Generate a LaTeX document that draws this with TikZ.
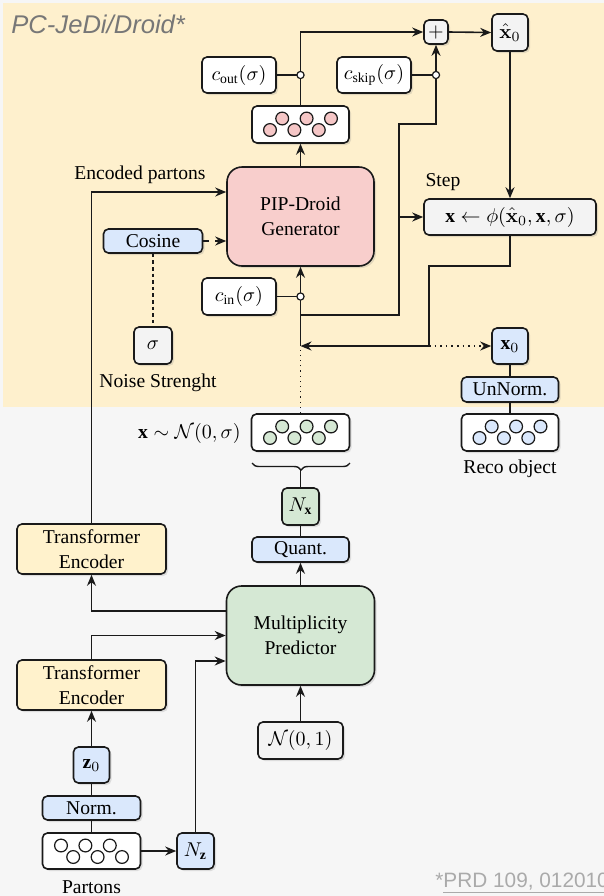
\documentclass[tikz,border=0pt]{standalone}
\usepackage{amsmath}
\usepackage{bm}
\usepackage{fontspec}
\setmainfont{Liberation Serif}
\newfontfamily\ttlfont{Liberation Sans}
\usetikzlibrary{arrows.meta,shadows,decorations.pathreplacing}

\definecolor{creamback}{HTML}{FEF0CD}
\definecolor{grayback}{HTML}{F6F6F6}
\definecolor{pinkfill}{HTML}{F8CECC}
\definecolor{pinkdot}{HTML}{F5C6C6}
\definecolor{greenfill}{HTML}{D5E8D4}
\definecolor{bluefill}{HTML}{DAE8FC}
\definecolor{yellowfill}{HTML}{FFF2CC}
\definecolor{lightfill}{HTML}{F3F3F3}
\definecolor{titlegray}{HTML}{777777}
\definecolor{refgray}{HTML}{AAAAAA}
\definecolor{edge}{HTML}{1A1A1A}

\newcommand\dfs{\fontsize{9.8}{12.5}\selectfont}
% one row of six particles inside a node, alternating up and down
\newcommand\partrow[3]{%
  \foreach \dx/\dy in {-30.5/5.5,-18.3/-6,-6.1/5.5,6.1/-6,18.3/5.5,30.5/-6}
    \draw[line width=0.6pt, draw=edge, fill=#2] ([shift={(\dx,#3*\dy)}]#1.center) circle[radius=3.2pt];}

\begin{document}
\begin{tikzpicture}[x=0.5pt,y=-0.5pt,
  box/.style={draw=edge, line width=0.8pt, rounded corners=2.5pt, inner sep=0pt,
    align=center, font=\dfs,
    drop shadow={opacity=0.22, shadow xshift=1pt, shadow yshift=-1pt}},
  bigbox/.style={box, rounded corners=7.5pt},
  lbl/.style={font=\dfs, inner sep=0pt},
  arr/.style={-{Stealth[length=5.5pt,width=4.5pt]}},
  conn/.style={draw=edge, line width=0.8pt},
  junc/.style={circle, draw=edge, fill=white, line width=0.6pt, inner sep=0pt, minimum size=3.6pt},
]
\useasboundingbox (0,0) rectangle (604,896);
\fill[grayback] (0,0) rectangle (604,896);
\fill[creamback] (3,3) rectangle (604,407);

% title and reference
\node[anchor=base west, inner sep=0pt, text=titlegray, font={\ttlfont\itshape\fontsize{12.8}{14}\selectfont}] (title) at (11,33) {PC-JeDi/Droid*};
\node[anchor=base west, inner sep=0pt, text=refgray, font={\ttlfont\fontsize{10.4}{12}\selectfont}] (ref) at (435,887) {*\underline{PRD 109, 012010}};

% ---- denoising part ----
\node[box, fill=lightfill, minimum width=12pt, minimum height=12pt] (plus) at (436,32) {$+$};
\node[box, fill=lightfill, minimum width=18pt, minimum height=18.5pt] (xhat) at (510,32.5) {$\bm{\hat{\mathbf{x}}}_0$};
\node[box, fill=white, minimum width=37pt, minimum height=18pt] (cout) at (239,75) {$c_{\mathrm{out}}(\sigma)$};
\node[box, fill=white, minimum width=37pt, minimum height=18pt] (cskip) at (374,75) {$c_{\mathrm{skip}}(\sigma)$};
\node[box, fill=white, minimum width=48.5pt, minimum height=18.5pt] (pk) at (300.5,124.5) {};
\partrow{pk}{pinkdot}{1}
\node[bigbox, fill=pinkfill, minimum width=73.5pt, minimum height=49.5pt] (pip) at (300.5,216.5) {PIP-Droid\\Generator};
\node[box, fill=lightfill, minimum width=86pt, minimum height=18pt] (step) at (510,217) {$\mathbf{x} \leftarrow \phi(\bm{\hat{\mathbf{x}}}_0, \mathbf{x}, \sigma)$};
\node[lbl] (steplbl) at (443,182) {Step};
\node[box, fill=bluefill, minimum width=49.5pt, minimum height=12pt] (cos) at (153,241) {Cosine};
\node[box, fill=white, minimum width=37pt, minimum height=18.5pt] (cin) at (239,296.5) {$c_{\mathrm{in}}(\sigma)$};
\node[box, fill=lightfill, minimum width=19pt, minimum height=18.5pt] (sig) at (153,345.5) {$\sigma$};
\node[lbl] (siglbl) at (158,383) {Noise Strenght};
\node[lbl] (enclbl) at (140,175) {Encoded partons};
\node[box, fill=bluefill, minimum width=18pt, minimum height=18pt] (x0) at (510,346) {$\mathbf{x}_0$};
\node[box, fill=bluefill, minimum width=48.5pt, minimum height=12.5pt] (unn) at (510,389.5) {UnNorm.};
\node[box, fill=white, minimum width=48.5pt, minimum height=18.5pt] (reco) at (510,432.5) {};
\partrow{reco}{bluefill}{1}
\node[lbl] (recolbl) at (510,469) {Reco object};

% ---- noise and multiplicity part ----
\node[box, fill=white, minimum width=49pt, minimum height=18.5pt] (noisy) at (300.5,432.5) {};
\partrow{noisy}{greenfill}{1}
\node[lbl, anchor=east] (noisylbl) at (241,433) {$\mathbf{x} \sim \mathcal{N}(0,\sigma)$};
\node[box, fill=greenfill, minimum width=18.5pt, minimum height=18.5pt] (nx) at (300.5,506.5) {$N_{\mathbf{x}}$};
\node[box, fill=bluefill, minimum width=48.5pt, minimum height=12.5pt] (quant) at (300.5,549.5) {Quant.};
\node[bigbox, fill=greenfill, minimum width=74pt, minimum height=49.5pt] (mp) at (300.5,635.5) {Multiplicity\\Predictor};
\node[box, fill=yellowfill, minimum width=74.5pt, minimum height=25pt] (te1) at (91.5,549) {Transformer\\Encoder};
\node[box, fill=yellowfill, minimum width=74.5pt, minimum height=25pt] (te2) at (91.5,685) {Transformer\\Encoder};
\node[box, fill=lightfill, minimum width=42.5pt, minimum height=18.5pt] (n01) at (300.5,740.5) {$\mathcal{N}(0,1)$};
\node[box, fill=bluefill, minimum width=18pt, minimum height=18pt] (z0) at (91.5,765) {$\mathbf{z}_0$};
\node[box, fill=bluefill, minimum width=49pt, minimum height=12pt] (norm) at (91.5,808) {Norm.};
\node[box, fill=white, minimum width=49pt, minimum height=18pt] (partons) at (91.5,851) {};
\partrow{partons}{white}{-1}
\node[lbl] (partlbl) at (91.5,887) {Partons};
\node[box, fill=bluefill, minimum width=18.5pt, minimum height=18pt] (nz) at (195.5,851) {$N_{\mathbf{z}}$};

% routing points
\coordinate (encin) at ([yshift=12.25pt]pip.west);
\coordinate (skA) at (300.5,315);
\coordinate (skB) at (399,315);
\coordinate (skC) at (399,124);
\coordinate (loopA) at (429,266);
\coordinate (loopB) at (429,346);
\coordinate (pipcol) at (300.5,346);
\coordinate (mpout) at ([yshift=12.25pt]mp.west);
\coordinate (nzin) at ([yshift=-12.75pt]mp.west);
\coordinate (bl) at (252,463);
\coordinate (br) at (350,463);
\coordinate (btip) at (300.5,470);

% ---- connectors ----
\draw[conn, arr] (pk.north) |- (plus.west);
\draw[conn] (cout.east) -- (pk.north |- cout.east);
\node[junc] (jout) at (pk.north |- cout.east) {};
\draw[conn, arr] (plus.east) -- (xhat.west);
\draw[conn, arr] (xhat.south) -- (step.north);
\draw[conn, arr] (pip.north) -- (pk.south);
\draw[conn, arr] (step.south) |- (loopA) -- (loopB) -- (pipcol);
\draw[conn, arr, dotted] (loopB) -- (x0.west);
\draw[conn, line width=0.6pt, dotted] (noisy.north) -- (pipcol);
\draw[conn, arr] (pipcol) -- (pip.south);
\draw[conn] (cin.east) -- (pip.south |- cin.east);
\node[junc] (jin) at (pip.south |- cin.east) {};
\draw[conn, arr] (skA) -- (skB) -- (skC) -| (plus.south);
\draw[conn, arr] (skB |- step.west) -- (step.west);
\draw[conn] (cskip.east) -- (plus.south |- cskip.east);
\node[junc] (jskip) at (plus.south |- cskip.east) {};
\draw[conn, arr, dashed] (cos.east) -- (cos.east -| pip.west);
\draw[conn, line width=0.6pt, dash pattern=on 1.8pt off 1.5pt] (cos.south) -- (sig.north);
\draw[conn, arr] (te1.north) |- (encin);
\draw[conn] (x0.south) -- (unn.north);
\draw[conn] (unn.south) -- (reco.north);

\draw[conn, line width=0.7pt, decorate, decoration={brace, mirror, amplitude=3.5pt}] (bl) -- (br);
\draw[conn] (btip) -- (nx.north);
\draw[conn] (nx.south) -- (quant.north);
\draw[conn, arr] (mp.north) -- (quant.south);
\draw[conn, arr] (mpout) -| (te1.south);
\draw[conn, arr] (te2.north) |- (mp.west);
\draw[conn, arr] (nz.north) |- (nzin);
\draw[conn, arr] (n01.north) -- (mp.south);
\draw[conn, arr] (z0.north) -- (te2.south);
\draw[conn] (norm.north) -- (z0.south);
\draw[conn] (partons.north) -- (norm.south);
\draw[conn, arr] (partons.east) -- (nz.west);
\end{tikzpicture}
\end{document}
